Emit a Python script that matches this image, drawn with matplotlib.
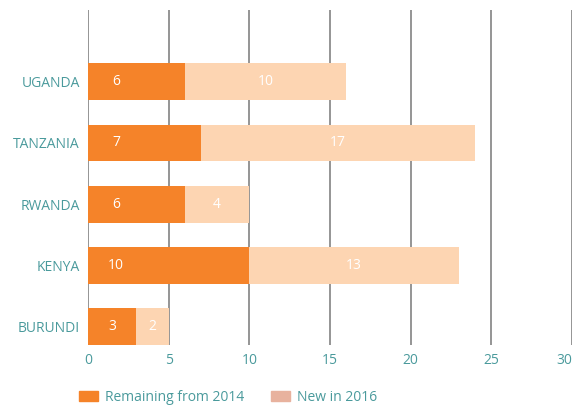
import matplotlib
matplotlib.use("Agg")
import matplotlib.pyplot as plt
from matplotlib.patches import Patch

countries = ["BURUNDI", "KENYA", "RWANDA", "TANZANIA", "UGANDA"]
remaining_2014 = [3, 10, 6, 7, 6]
new_2016 = [2, 13, 4, 17, 10]
x_ticks = [0, 5, 10, 15, 20, 25, 30]

ORANGE = "#F58329"
PEACH = "#FDD5B2"
LEGEND_PEACH = "#E8B29E"
TEAL = "#4A9A9C"
GRID = "#8C8C8C"

plt.rcParams["font.family"] = ["Open Sans", "DejaVu Sans"]

fig = plt.figure(figsize=(5.74, 4.08), dpi=100)
ax = fig.add_axes([0.1533, 0.1544, 0.8432, 0.8211])

ypos = list(range(len(countries)))
h = 0.6
ax.barh(ypos, remaining_2014, height=h, color=ORANGE, zorder=3)
ax.barh(ypos, new_2016, left=remaining_2014, height=h, color=PEACH, zorder=3)

for y, a, b in zip(ypos, remaining_2014, new_2016):
    ax.text(min(a / 2, 1.75), y, str(a), color="white", fontsize=10,
            ha="center", va="center", zorder=4)
    ax.text(a + b / 2, y, str(b), color="white", fontsize=10,
            ha="center", va="center", zorder=4)

ax.set_xlim(0, 30)
ax.set_ylim(-0.3, 5.17)
ax.set_xticks(x_ticks)
ax.set_xticklabels([str(t) for t in x_ticks])
ax.set_yticks(ypos)
ax.set_yticklabels(countries)
ax.tick_params(axis="both", length=0, colors=TEAL, labelsize=10)
ax.tick_params(axis="x", pad=6)
ax.tick_params(axis="y", pad=6)
for lbl in ax.get_xticklabels() + ax.get_yticklabels():
    lbl.set_color(TEAL)
ax.get_xticklabels()[-1].set_horizontalalignment("right")

for t in x_ticks:
    ax.axvline(t, color=GRID, linewidth=1.3, zorder=1)
for s in ax.spines.values():
    s.set_visible(False)

handles = [Patch(color=ORANGE, label="Remaining from 2014"),
           Patch(color=LEGEND_PEACH, label="New in 2016")]
leg = fig.legend(handles=handles, loc="center left", bbox_to_anchor=(0.115, 0.026),
                 ncol=2, frameon=False, fontsize=10, handlelength=1.4,
                 handleheight=0.7, handletextpad=0.5, columnspacing=1.9)
for txt in leg.get_texts():
    txt.set_color(TEAL)

fig.savefig("out.png", dpi=100)
